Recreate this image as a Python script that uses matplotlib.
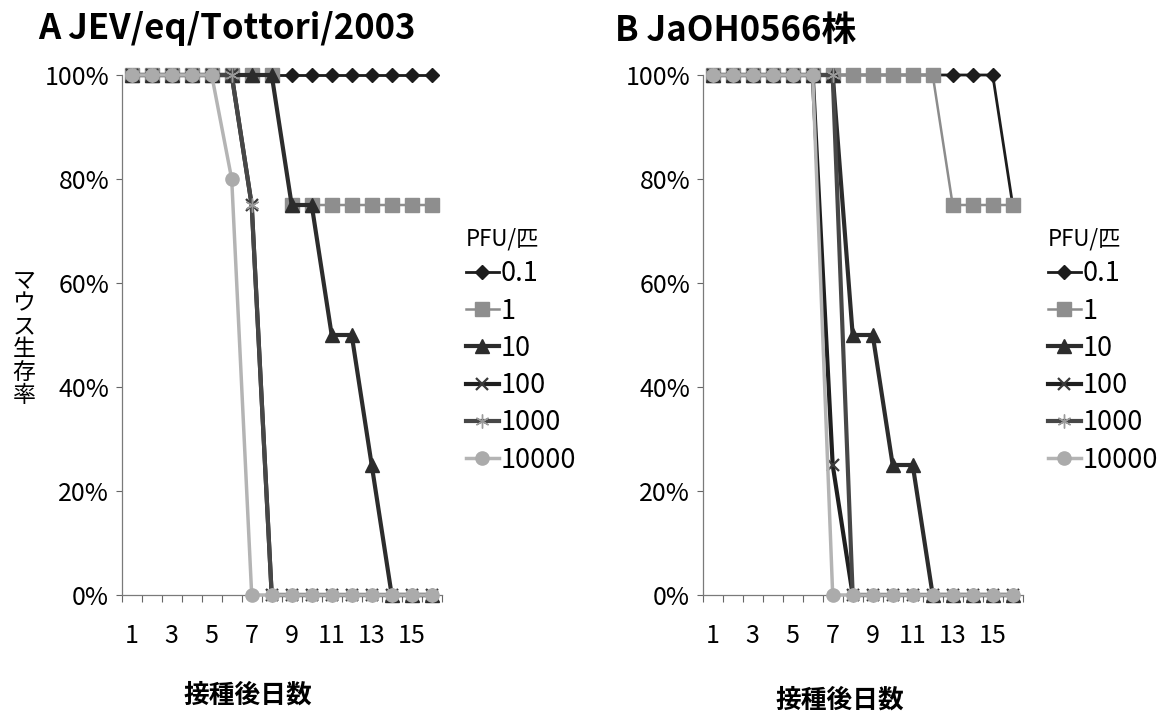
import matplotlib
matplotlib.use("Agg")
import matplotlib.pyplot as plt

plt.rcParams['font.family'] = ['Noto Sans CJK JP', 'DejaVu Sans']

#___________DATA_______________
days = [1, 2, 3, 4, 5, 6, 7, 8, 9, 10, 11, 12, 13, 14, 15, 16]
day_labels = ["1", "3", "5", "7", "9", "11", "13", "15"]
doses = ["0.1", "1", "10", "100", "1000", "10000"]

# A JEV/eq/Tottori/2003  (survival %)
a_01 = [100, 100, 100, 100, 100, 100, 100, 100, 100, 100, 100, 100, 100, 100, 100, 100]
a_1 = [100, 100, 100, 100, 100, 100, 100, 100, 75, 75, 75, 75, 75, 75, 75, 75]
a_10 = [100, 100, 100, 100, 100, 100, 100, 100, 75, 75, 50, 50, 25, 0, 0, 0]
a_100 = [100, 100, 100, 100, 100, 100, 75, 0, 0, 0, 0, 0, 0, 0, 0, 0]
a_1000 = [100, 100, 100, 100, 100, 100, 75, 0, 0, 0, 0, 0, 0, 0, 0, 0]
a_10000 = [100, 100, 100, 100, 100, 80, 0, 0, 0, 0, 0, 0, 0, 0, 0, 0]

# B JaOH0566
b_01 = [100, 100, 100, 100, 100, 100, 100, 100, 100, 100, 100, 100, 100, 100, 100, 75]
b_1 = [100, 100, 100, 100, 100, 100, 100, 100, 100, 100, 100, 100, 75, 75, 75, 75]
b_10 = [100, 100, 100, 100, 100, 100, 100, 50, 50, 25, 25, 0, 0, 0, 0, 0]
b_100 = [100, 100, 100, 100, 100, 100, 25, 0, 0, 0, 0, 0, 0, 0, 0, 0]
b_1000 = [100, 100, 100, 100, 100, 100, 100, 0, 0, 0, 0, 0, 0, 0, 0, 0]
b_10000 = [100, 100, 100, 100, 100, 100, 0, 0, 0, 0, 0, 0, 0, 0, 0, 0]

# line / marker style per dose (excel-ish greyscale)
styles = [
    dict(color="#1c1c1c", lw=2.0, marker="D", ms=7.5, mfc="#1c1c1c", mec="#1c1c1c"),
    dict(color="#8c8c8c", lw=1.8, marker="s", ms=9.5, mfc="#8e8e8e", mec="#8e8e8e"),
    dict(color="#2c2c2c", lw=3.0, marker="^", ms=9.5, mfc="#2c2c2c", mec="#2c2c2c"),
    dict(color="#1f1f1f", lw=3.0, marker="x", ms=9, mew=1.6, mec="#3a3a3a"),
    dict(color="#474747", lw=3.0, marker=(6, 2, 0), ms=10, mew=1.0, mec="#9a9a9a"),
    dict(color="#b4b4b4", lw=2.5, marker="o", ms=9.5, mfc="#ababab", mec="#ababab"),
]


def draw_panel(ax, series):
    for i, (vals, st) in enumerate(zip(series, styles)):
        ax.plot(days, [v / 100 for v in vals], label=doses[i], clip_on=False,
                zorder=3 + i, **st)
    ax.set_xlim(0.5, 16.5)
    ax.set_ylim(0, 1)
    ax.set_xticks(range(1, 17, 2))
    ax.set_xticklabels(day_labels, fontsize=18)
    ax.set_xticks([d + 0.5 for d in range(0, 17)], minor=True)
    ax.tick_params(axis="x", which="major", length=0, pad=20)
    ax.tick_params(axis="x", which="minor", length=5, direction="out",
                   color="#666666", width=0.8)
    ax.set_yticks([0, 0.2, 0.4, 0.6, 0.8, 1.0])
    ax.set_yticklabels(["0%", "20%", "40%", "60%", "80%", "100%"], fontsize=18)
    ax.tick_params(axis="y", length=4, direction="out", color="#666666",
                   width=0.8, pad=5)
    for s in ["top", "right"]:
        ax.spines[s].set_visible(False)
    for s in ["left", "bottom"]:
        ax.spines[s].set_color("#7a7a7a")
        ax.spines[s].set_linewidth(0.9)
    ax.set_facecolor("none")


fig = plt.figure(figsize=(11.64, 7.15), dpi=100)
W, H = 1164, 715
axA = fig.add_axes([121.7 / W, 1 - 595 / H, 320 / W, 520 / H])
axB = fig.add_axes([702.7 / W, 1 - 595 / H, 320 / W, 520 / H])

draw_panel(axA, [a_01, a_1, a_10, a_100, a_1000, a_10000])
draw_panel(axB, [b_01, b_1, b_10, b_100, b_1000, b_10000])

# titles
fig.text(38 / W, 1 - 28 / H, "A JEV/eq/Tottori/2003", fontsize=25,
         fontweight="bold", va="center", ha="left")
fig.text(615 / W, 1 - 30 / H, "B JaOH0566株", fontsize=25,
         fontweight="bold", va="center", ha="left")

# axis labels
fig.text(248 / W, 1 - 695 / H, "接種後日数", fontsize=18.5, fontweight="bold",
         ha="center", va="center")
fig.text(840 / W, 1 - 700 / H, "接種後日数", fontsize=18.5, fontweight="bold",
         ha="center", va="center")
fig.text(24 / W, 1 - 338 / H, "\n".join("マウス生存率"), fontsize=16.5,
         ha="center", va="center", linespacing=1.0)

# legends
for ax, x0 in [(axA, 466), (axB, 1048)]:
    leg = ax.legend(loc="upper left", bbox_to_anchor=(x0 / W, 1 - 227 / H),
                    bbox_transform=fig.transFigure, frameon=False,
                    title="PFU/匹", title_fontsize=16, fontsize=19.5,
                    handlelength=1.2, handletextpad=0.08, labelspacing=0.38,
                    borderpad=0, borderaxespad=0, alignment="left")

fig.savefig("out.png", dpi=100)
